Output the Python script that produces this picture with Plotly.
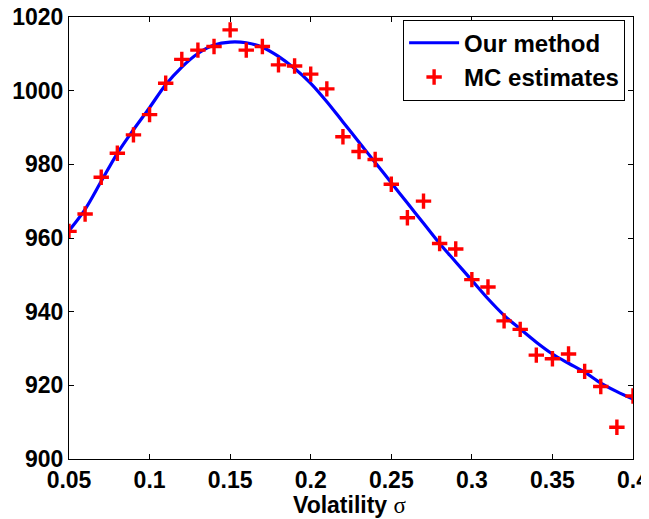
import plotly.graph_objects as go

# volatility grid (shared by both series)
sigma = [0.05, 0.06, 0.07, 0.08, 0.09, 0.10, 0.11, 0.12, 0.13, 0.14, 0.15, 0.16,
         0.17, 0.18, 0.19, 0.20, 0.21, 0.22, 0.23, 0.24, 0.25, 0.26, 0.27, 0.28,
         0.29, 0.30, 0.31, 0.32, 0.33, 0.34, 0.35, 0.36, 0.37, 0.38, 0.39, 0.40]

# "Our method" curve
our_method = [962.0, 967.8, 975.4, 983.0, 989.4, 995.4, 1001.6, 1006.4, 1010.1, 1012.4,
              1013.2, 1013.0, 1011.8, 1009.3, 1006.0, 1002.0, 997.0, 991.5, 986.0, 980.5,
              975.0, 969.5, 964.0, 958.5, 953.5, 948.5, 943.5, 939.0, 935.3, 931.7,
              928.5, 926.0, 923.6, 920.6, 918.3, 916.3]

# Monte Carlo estimates
mc_estimates = [961.8, 966.5, 976.5, 983.0, 988.0, 993.5, 1002.0, 1008.5, 1011.0, 1012.0,
                1016.5, 1011.0, 1012.0, 1007.0, 1006.7, 1004.5, 1000.5, 987.5, 983.5, 981.3,
                974.6, 965.5, 970.0, 958.5, 957.0, 948.7, 946.7, 937.5, 935.2, 928.2,
                927.2, 928.5, 923.8, 919.7, 908.6, 917.1]

x_ticks = [0.05, 0.1, 0.15, 0.2, 0.25, 0.3, 0.35, 0.4]
x_tick_text = ['0.05', '0.1', '0.15', '0.2', '0.25', '0.3', '0.35', '0.4']
y_ticks = [900, 920, 940, 960, 980, 1000, 1020]

fig = go.Figure()
fig.add_trace(go.Scatter(x=sigma, y=our_method, mode='lines', name='Our method',
                         line=dict(color='#0000ff', width=3.2, shape='spline')))
fig.add_trace(go.Scatter(x=sigma, y=mc_estimates, mode='markers', name='MC estimates',
                         marker=dict(symbol='cross-thin', size=11,
                                     line=dict(color='#ff0000', width=3.4))))

axis_common = dict(showline=True, linecolor='black', linewidth=1, mirror='ticks',
                   ticks='inside', ticklen=5, tickcolor='black', showgrid=False,
                   zeroline=False, automargin=False, ticklabeloverflow='allow',
                   tickfont=dict(size=23, color='black'))

fig.update_xaxes(range=[0.05, 0.4], tickvals=x_ticks, ticktext=x_tick_text, **axis_common)
fig.update_yaxes(range=[900, 1020], tickvals=y_ticks, **axis_common)

# x axis title as an annotation so it sits where the reference has it
fig.add_annotation(text='Volatility <span style="font-family:Liberation Serif;font-weight:normal">σ</span>',
                   xref='paper', yref='paper', x=0.498, y=-0.104,
                   xanchor='center', yanchor='middle', showarrow=False,
                   font=dict(size=23, color='black'))

# page body has an 8px margin, so the figure is drawn 8px smaller than the window
fig.update_layout(
    width=641, height=511,
    margin=dict(l=61, r=16, t=9, b=60),
    paper_bgcolor='white', plot_bgcolor='white',
    font=dict(family='Liberation Sans, Arial, sans-serif', weight='bold', color='black'),
    showlegend=True,
    legend=dict(x=0.986, y=0.994, xanchor='right', yanchor='top',
                bordercolor='black', borderwidth=1, bgcolor='white',
                itemwidth=50,
                font=dict(size=24, color='black'), tracegroupgap=0),
)

fig.write_html("out.html")
